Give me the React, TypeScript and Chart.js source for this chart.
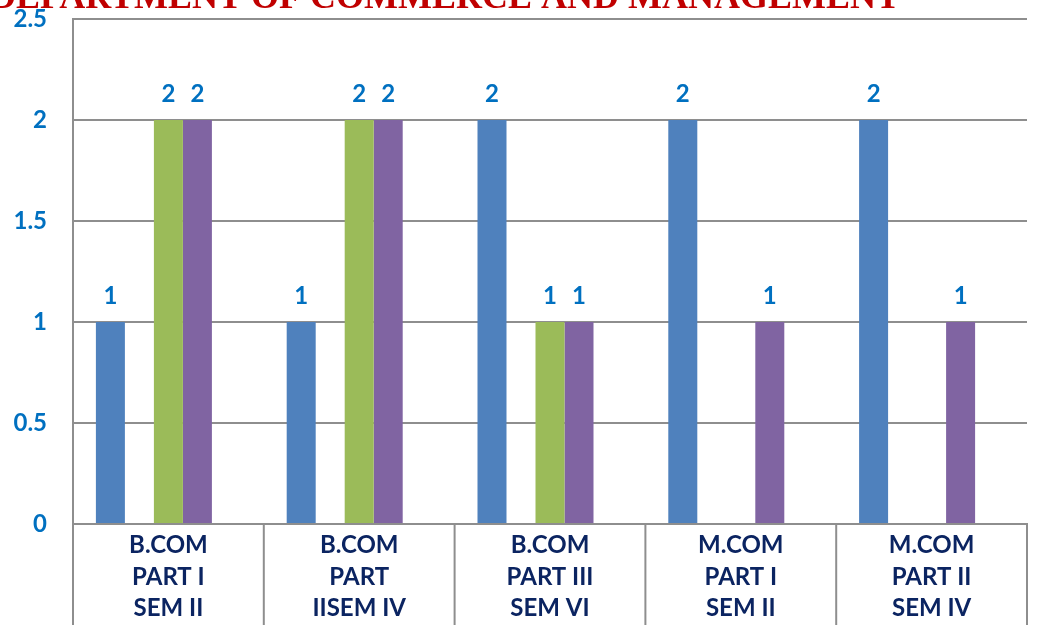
import React, { useEffect, useRef } from "react";
import { Chart, registerables } from "chart.js";

Chart.register(...registerables);

const TITLE = "DEPARTMENT OF COMMERCE AND MANAGEMENT";
const categories: string[][] = [
  ["B.COM", "PART I", "SEM II"],
  ["B.COM", "PART", "IISEM IV"],
  ["B.COM", "PART III", "SEM VI"],
  ["M.COM", "PART I", "SEM II"],
  ["M.COM", "PART II", "SEM IV"],
];
const series1 = [1, 1, 2, 2, 2];
const series2 = [0, 0, 0, 0, 0];
const series3 = [2, 2, 1, 0, 0];
const series4 = [2, 2, 1, 1, 1];
const series5 = [0, 0, 0, 0, 0];
const yTicks = [0, 0.5, 1, 1.5, 2, 2.5];

const colors = ["#4F81BD", "#C0504D", "#9BBB59", "#8064A2", "#4BACC6"];
const GRID = "#8e8e8e";

const titlePlugin = {
  id: "titleText",
  afterDraw(chart: any) {
    const ctx = chart.ctx;
    ctx.save();
    ctx.font = 'bold 36px "Liberation Serif"';
    ctx.fillStyle = "#C00000";
    ctx.textAlign = "center";
    ctx.textBaseline = "alphabetic";
    ctx.fillText(TITLE, 445, 8);
    ctx.restore();
  },
};

const dividers = {
  id: "dividers",
  afterDraw(chart: any) {
    const ctx = chart.ctx;
    const xs = chart.scales.x;
    const area = chart.chartArea;
    const n = chart.data.labels.length;
    const step = (area.right - area.left) / n;
    ctx.save();
    ctx.strokeStyle = GRID;
    ctx.lineWidth = 2;
    for (let i = 0; i <= n; i++) {
      const x = i < n ? xs.getPixelForValue(i) - step / 2 : xs.getPixelForValue(n - 1) + step / 2;
      ctx.beginPath();
      ctx.moveTo(x, area.bottom);
      ctx.lineTo(x, chart.height);
      ctx.stroke();
    }
    ctx.restore();
  },
};

const valueLabels = {
  id: "valueLabels",
  afterDatasetsDraw(chart: any) {
    const ctx = chart.ctx;
    ctx.save();
    ctx.font = 'bold 24px Lato';
    ctx.fillStyle = "#0070C0";
    ctx.textAlign = "center";
    ctx.textBaseline = "alphabetic";
    chart.data.datasets.forEach((ds: any, i: number) => {
      const meta = chart.getDatasetMeta(i);
      meta.data.forEach((el: any, j: number) => {
        const v = ds.data[j];
        if (v > 0) ctx.fillText(String(v), el.x, el.y - 18);
      });
    });
    ctx.restore();
  },
};

export default function App() {
  const ref = useRef<HTMLCanvasElement>(null);
  useEffect(() => {
    if (!ref.current) return;
    const data = [series1, series2, series3, series4, series5];
    const chart = new Chart(ref.current, {
      type: "bar",
      data: {
        labels: categories,
        datasets: data.map((d, i) => ({
          label: "Series" + (i + 1),
          data: d,
          backgroundColor: colors[i],
          borderWidth: 0,
          categoryPercentage: 0.76,
          barPercentage: 1.0,
        })),
      },
      options: {
        animation: false,
        responsive: false,
        layout: { padding: { top: 19, left: 13, right: 11, bottom: 0 } },
        plugins: { legend: { display: false }, tooltip: { enabled: false }, title: { display: false } },
        scales: {
          x: {
            afterFit: (scale: any) => {
              scale.height = 101;
              scale.paddingLeft = 0;
              scale.paddingRight = 0;
            },
            grid: { display: false, drawOnChartArea: false, drawTicks: false },
            border: { display: true, color: GRID, width: 2 },
            ticks: {
              padding: 6,
              color: "#0B2461",
              font: { family: "Lato", weight: "bold", size: 24, lineHeight: 1.31 },
              maxRotation: 0,
              autoSkip: false,
            },
          },
          y: {
            min: 0,
            max: 2.5,
            afterBuildTicks: (axis: any) => {
              axis.ticks = yTicks.map((v) => ({ value: v }));
            },
            afterFit: (scale: any) => {
              scale.width = 60;
              scale.paddingTop = 0;
              scale.paddingBottom = 0;
            },
            grid: { color: GRID, lineWidth: 2, drawTicks: false },
            border: { display: true, color: GRID, width: 2 },
            ticks: {
              padding: 26,
              color: "#0070C0",
              font: { family: "Lato", weight: "bold", size: 24 },
              callback: (v: any) => String(v),
            },
          },
        },
      },
      plugins: [titlePlugin, dividers, valueLabels],
    });
    return () => chart.destroy();
  }, []);
  return (
    <div style={{ position: "fixed", left: 0, top: 0, width: 1038, height: 625, background: "#fff" }}>
      <canvas ref={ref} width={1038} height={625} />
    </div>
  );
}
